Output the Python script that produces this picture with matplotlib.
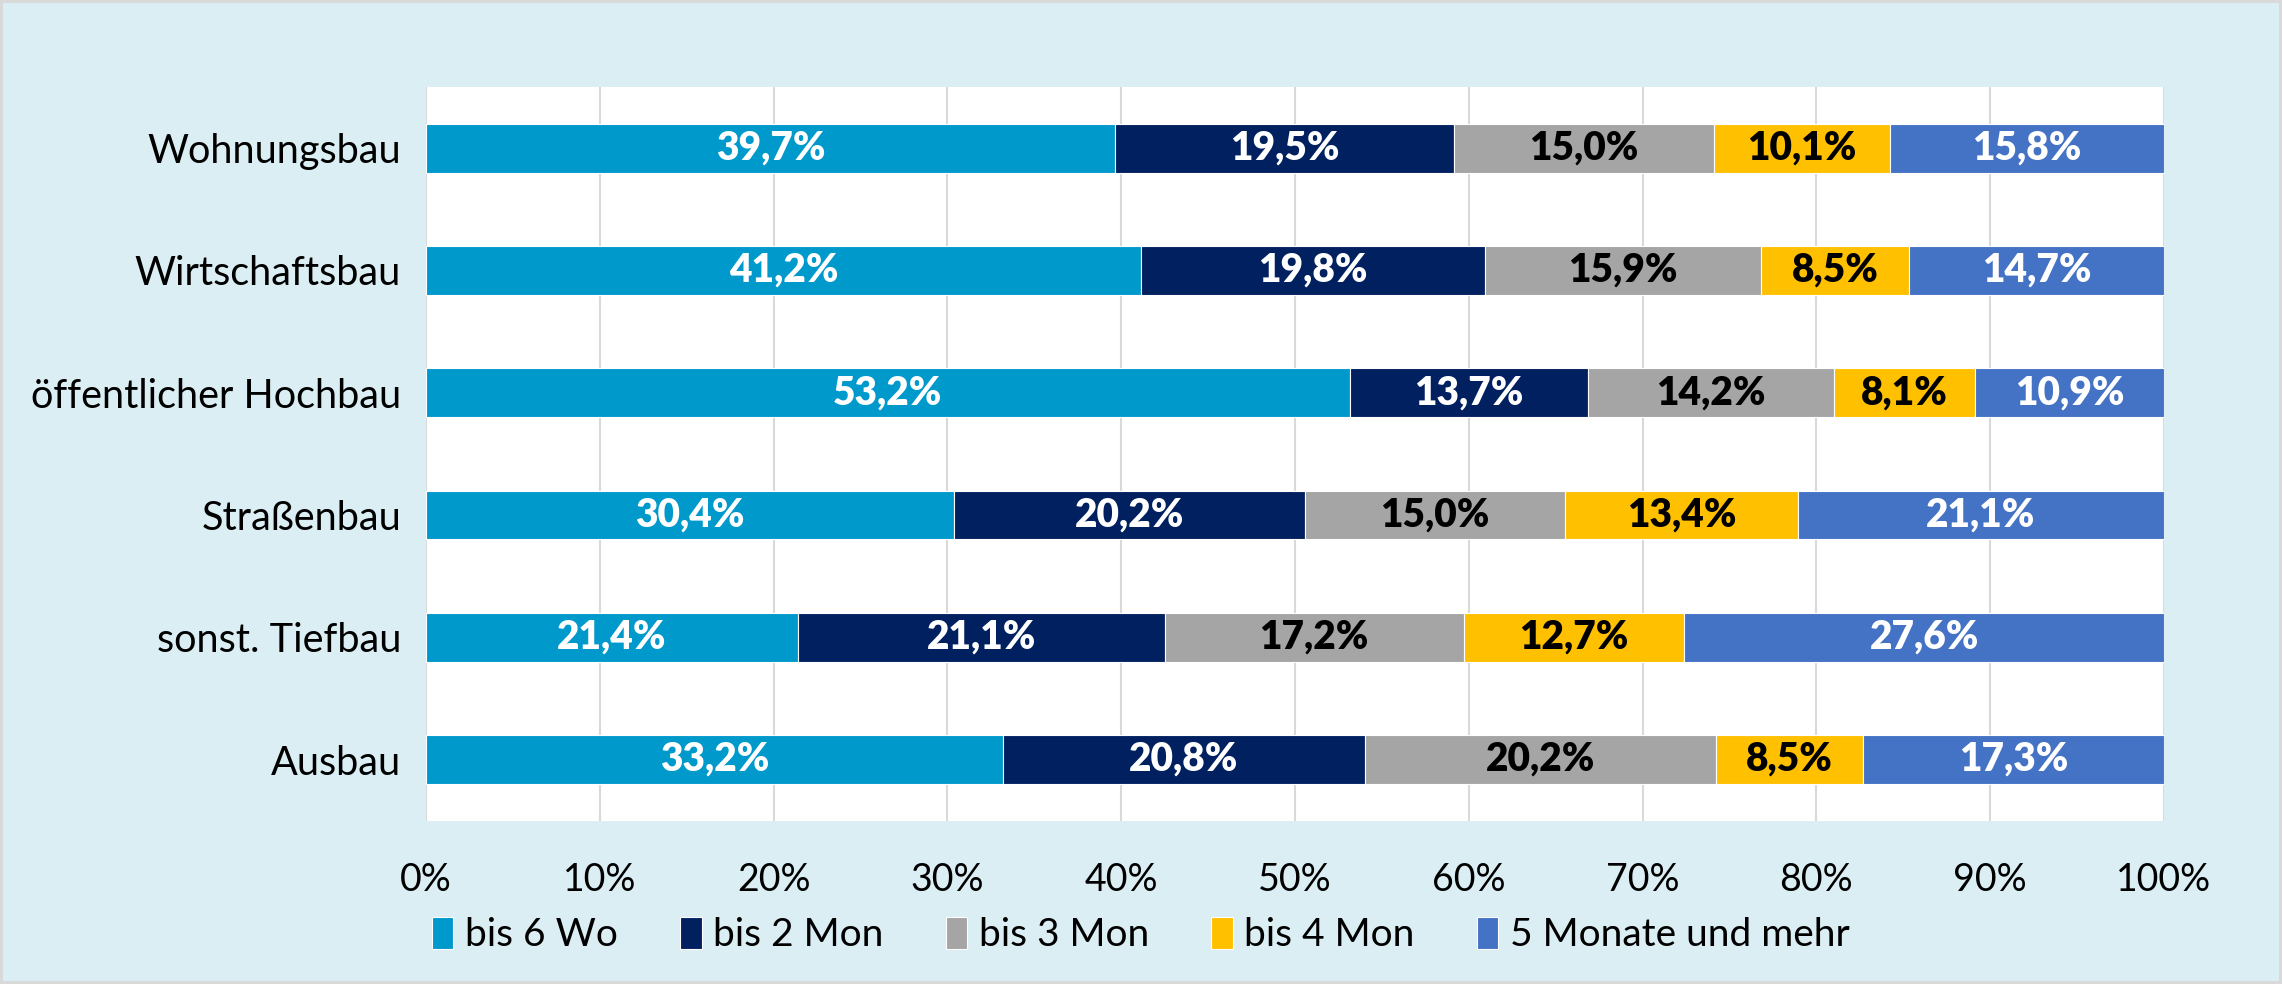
import numpy as np
import matplotlib.pyplot as plt

plt.rcParams['font.family'] = ['Lato', 'DejaVu Sans']

categories = ['Wohnungsbau', 'Wirtschaftsbau', 'öffentlicher Hochbau',
              'Straßenbau', 'sonst. Tiefbau', 'Ausbau']
series = ['bis 6 Wo', 'bis 2 Mon', 'bis 3 Mon', 'bis 4 Mon', '5 Monate und mehr']
bis_6_wo = [39.7, 41.2, 53.2, 30.4, 21.4, 33.2]
bis_2_mon = [19.5, 19.8, 13.7, 20.2, 21.1, 20.8]
bis_3_mon = [15.0, 15.9, 14.2, 15.0, 17.2, 20.2]
bis_4_mon = [10.1, 8.5, 8.1, 13.4, 12.7, 8.5]
ab_5_mon = [15.8, 14.7, 10.9, 21.1, 27.6, 17.3]
xticks = ['0%', '10%', '20%', '30%', '40%', '50%', '60%', '70%', '80%', '90%', '100%']

colors = ['#0099CC', '#002060', '#A5A5A5', '#FFC000', '#4472C4']
text_colors = ['white', 'white', 'black', 'black', 'white']

values = np.array([bis_6_wo, bis_2_mon, bis_3_mon, bis_4_mon, ab_5_mon])
totals = values.sum(axis=0)
shares = values / totals * 100

fig = plt.figure(figsize=(22.82, 9.84), dpi=100, facecolor='#DAEEF3',
                 edgecolor='#D9D9D9', linewidth=4)
ax = fig.add_axes([0.1867, 0.166, 0.7616, 0.7456])
ax.set_facecolor('white')

y = np.arange(len(categories))
left = np.zeros(len(categories))
for i in range(len(series)):
    ax.barh(y, shares[i], left=left, height=0.4, color=colors[i],
            edgecolor='white', linewidth=0.8, label=series[i], zorder=3)
    for j in range(len(categories)):
        ax.text(left[j] + shares[i][j] / 2, y[j], ('%.1f%%' % values[i][j]).replace('.', ','),
                ha='center', va='center', color=text_colors[i],
                fontsize=28, fontweight='heavy', zorder=4)
    left += shares[i]

ax.set_xlim(0, 100)
ax.set_ylim(len(categories) - 0.5, -0.5)
ax.set_xticks(np.arange(0, 101, 10))
ax.set_xticklabels(xticks, fontsize=27)
ax.set_yticks(y)
ax.set_yticklabels(categories, fontsize=28.5)
ax.tick_params(length=0, pad=18)
ax.tick_params(axis='x', pad=30)
ax.grid(axis='x', color='#D9D9D9', linewidth=1.5, zorder=0)
for s in ax.spines.values():
    s.set_visible(False)

fig.legend(loc='center', bbox_to_anchor=(0.5, 0.05), ncol=5, frameon=False,
           fontsize=28, handlelength=0.55, handleheight=0.9, handletextpad=0.3,
           columnspacing=1.6)

fig.savefig('out.png', dpi=100, facecolor=fig.get_facecolor(),
            edgecolor=fig.get_edgecolor())
